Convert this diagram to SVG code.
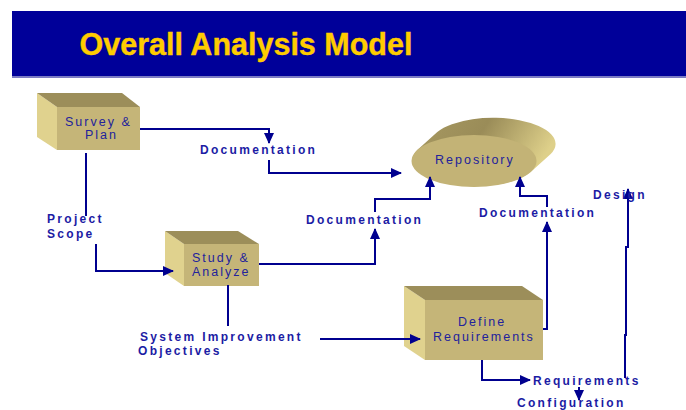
<svg xmlns="http://www.w3.org/2000/svg" width="686" height="410" viewBox="0 0 686 410">
<defs>
<style>
.nt{font-family:"Liberation Sans",Arial,sans-serif;font-size:12.5px;letter-spacing:2px;fill:#22229c}
.lb{font-family:"Liberation Sans",Arial,sans-serif;font-size:12px;font-weight:bold;letter-spacing:2.3px;fill:#1c1ca4}
.ln{fill:none;stroke:#00008f;stroke-width:2}
.ar{marker-end:url(#ah)}
.lf{fill:#e0d28e}
.tp{fill:#9c8e5a}
.fr{fill:#c5b578}
</style>
<marker id="ah" markerUnits="userSpaceOnUse" markerWidth="11" markerHeight="10" refX="10" refY="5" orient="auto">
<path d="M0,0 L11,5 L0,10 z" fill="#00008f"/>
</marker>
<linearGradient id="rg" x1="0" y1="0" x2="1" y2="0.3">
<stop offset="0" stop-color="#a89a62"/>
<stop offset="0.5" stop-color="#9a8c58"/>
<stop offset="1" stop-color="#ded08a"/>
</linearGradient>
</defs>
<rect width="686" height="410" fill="#ffffff"/>
<g id="title">
<rect x="12" y="11" width="674" height="65" fill="#000099"/>
<rect x="12" y="76" width="674" height="2" fill="#7b7bc4"/>
<text x="246" y="55" text-anchor="middle" font-family="'Liberation Sans',Arial,sans-serif" font-size="30.5" font-weight="bold" fill="#ffcc00" stroke="#ffcc00" stroke-width="0.4">Overall Analysis Model</text>
</g>
<g id="survey">
<polygon class="lf" points="37,93 57,107 57,150 37,137"/>
<polygon class="tp" points="37,93 122,93 140,107 57,107"/>
<rect class="fr" x="57" y="107" width="83" height="43"/>
<text class="nt" x="65" y="126">Survey &amp;</text>
<text class="nt" x="85" y="139">Plan</text>
</g>
<g id="study">
<polygon class="lf" points="165,231 184,244 184,286 165,273"/>
<polygon class="tp" points="165,231 238,231 259,244 184,244"/>
<rect class="fr" x="184" y="244" width="75" height="42"/>
<text class="nt" x="192" y="262">Study &amp;</text>
<text class="nt" x="192" y="276">Analyze</text>
</g>
<g id="define">
<polygon class="lf" points="404,286 425,300 425,360 404,346"/>
<polygon class="tp" points="404,286 522,286 543,300 425,300"/>
<rect class="fr" x="425" y="300" width="118" height="60"/>
<text class="nt" x="458" y="326">Define</text>
<text class="nt" x="433" y="341">Requirements</text>
</g>
<g id="repository">
<path d="M417.3,150.1 L437.3,132.1 A62.5 26 0 0 1 550.7,153.9 L530.7,171.9 A62.5 26 0 0 1 417.3,150.1 Z" fill="url(#rg)"/>
<ellipse cx="474" cy="161" rx="62.5" ry="26" fill="#c3b376"/>
<text class="nt" x="435" y="164">Repository</text>
</g>
<g id="connectors">
<path class="ln ar" d="M140,129 H269 V143"/>
<path class="ln ar" d="M269,160 V173 H401"/>
<path class="ln" d="M86,153 V216"/>
<path class="ln ar" d="M96,244 V271 H173"/>
<path class="ln ar" d="M259,264 H375 V229"/>
<path class="ln ar" d="M375,212 V199 H430 V177"/>
<path class="ln" d="M228,285 V326"/>
<path class="ln ar" d="M320,339 H420"/>
<path class="ln ar" d="M543,329 H547 V222"/>
<path class="ln ar" d="M547,207 V196 H520 V177"/>
<path class="ln ar" d="M482,360 V380 H530"/>
<path class="ln ar" d="M579,387 V400"/>
<path class="ln ar" d="M625,378 V335 H626 V247 H628 V189"/>
</g>
<g id="labels">
<text class="lb" x="200" y="154">Documentation</text>
<text class="lb" x="306" y="224">Documentation</text>
<text class="lb" x="479" y="217">Documentation</text>
<text class="lb" x="47" y="223">Project</text>
<text class="lb" x="47" y="238">Scope</text>
<text class="lb" x="140" y="341">System Improvement</text>
<text class="lb" x="138" y="355">Objectives</text>
<text class="lb" x="593" y="199">Design</text>
<text class="lb" x="533" y="385">Requirements</text>
<text class="lb" x="517" y="407">Configuration</text>
</g>
</svg>
